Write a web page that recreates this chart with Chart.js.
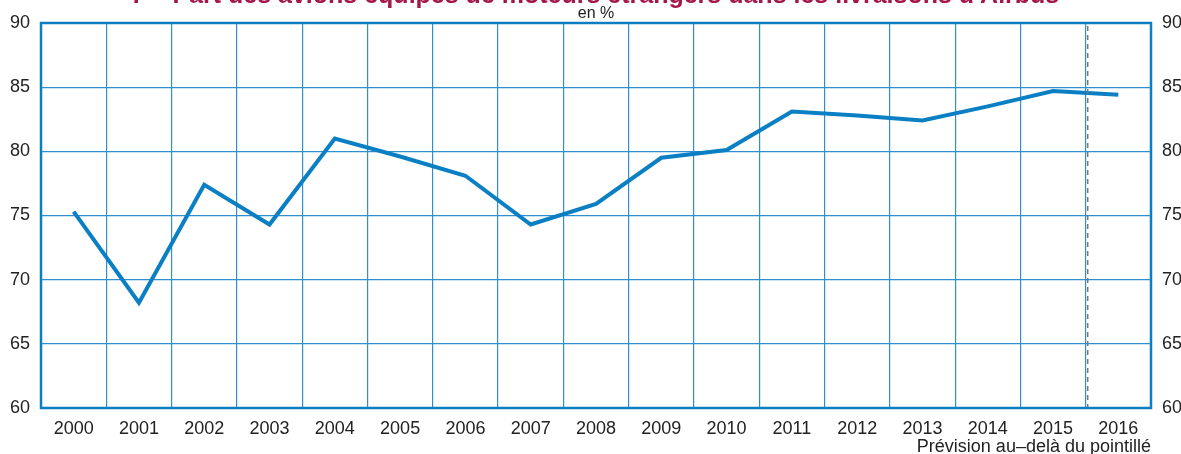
<!DOCTYPE html>
<html>
<head>
<meta charset="utf-8">
<script src="https://cdn.jsdelivr.net/npm/chart.js@4"></script>
<style>
  body { margin: 0; background: #fff; overflow: hidden; }
  canvas { display: block; }
</style>
</head>
<body>
<canvas id="chart" width="1181" height="454"></canvas>
<script>
const years = ['2000', '2001', '2002', '2003', '2004', '2005', '2006', '2007', '2008',
               '2009', '2010', '2011', '2012', '2013', '2014', '2015', '2016'];
const share = [75.3, 68.2, 77.4, 74.3, 81.0, 79.6, 78.1, 74.3, 75.9,
               79.5, 80.1, 83.1, 82.8, 82.4, 83.5, 84.7, 84.4];
const titleText = "7 – Part des avions équipés de moteurs étrangers dans les livraisons d'Airbus";
const unitText = 'en %';
const noteText = 'Prévision au–delà du pointillé';
const forecastFrom = '2016';

const blue = '#0a7fc4';
const gridBlue = '#2f8fcf';
const font = "'Liberation Sans', Arial, sans-serif";

const extras = {
    id: 'extras',
    afterDraw(chart) {
        const ctx = chart.ctx;
        const area = chart.chartArea;
        const x = chart.scales.x;
        ctx.save();
        // forecast separator
        const i = years.indexOf(forecastFrom);
        const xs = (x.getPixelForValue(i - 1) + x.getPixelForValue(i)) / 2 + 2;
        ctx.strokeStyle = '#777';
        ctx.lineWidth = 1.5;
        ctx.setLineDash([5, 4]);
        ctx.beginPath();
        ctx.moveTo(xs, area.top + 3);
        ctx.lineTo(xs, area.bottom);
        ctx.stroke();
        ctx.setLineDash([]);
        // frame
        ctx.strokeStyle = blue;
        ctx.lineWidth = 2.5;
        ctx.strokeRect(area.left, area.top, area.right - area.left, area.bottom - area.top);
        // texts
        ctx.fillStyle = '#a3174a';
        ctx.font = 'bold 25px ' + font;
        ctx.textAlign = 'center';
        ctx.textBaseline = 'alphabetic';
        ctx.fillText(titleText, 595, 3);
        ctx.fillStyle = '#222';
        ctx.font = '16px ' + font;
        ctx.fillText(unitText, 596, 18);
        ctx.font = '18px ' + font;
        ctx.textAlign = 'right';
        ctx.fillText(noteText, area.right, 452);
        ctx.restore();
    }
};

new Chart(document.getElementById('chart'), {
    type: 'line',
    data: {
        labels: years,
        datasets: [{
            data: share,
            borderColor: blue,
            borderWidth: 4,
            pointRadius: 0,
            tension: 0,
            fill: false
        }]
    },
    options: {
        responsive: false,
        animation: false,
        layout: { padding: { top: 23, left: 0, right: 0, bottom: 0 } },
        plugins: { legend: { display: false }, tooltip: { enabled: false } },
        scales: {
            x: {
                offset: true,
                grid: { offset: true, color: gridBlue, lineWidth: 1.2, drawTicks: false },
                border: { display: false },
                ticks: { color: '#222', font: { family: font, size: 18 }, padding: 10, maxRotation: 0 },
                afterFit(scale) { scale.height = 46; }
            },
            y: {
                min: 60, max: 90,
                ticks: { stepSize: 5, color: '#222', font: { family: font, size: 18 }, padding: 11 },
                grid: { color: gridBlue, lineWidth: 1.2, drawTicks: false },
                border: { display: false },
                afterFit(scale) { scale.width = 41; }
            },
            y2: {
                position: 'right',
                min: 60, max: 90,
                ticks: { stepSize: 5, color: '#222', font: { family: font, size: 18 }, padding: 3 },
                grid: { display: false },
                border: { display: false },
                afterFit(scale) { scale.width = 30; }
            }
        }
    },
    plugins: [extras]
});
</script>
</body>
</html>
